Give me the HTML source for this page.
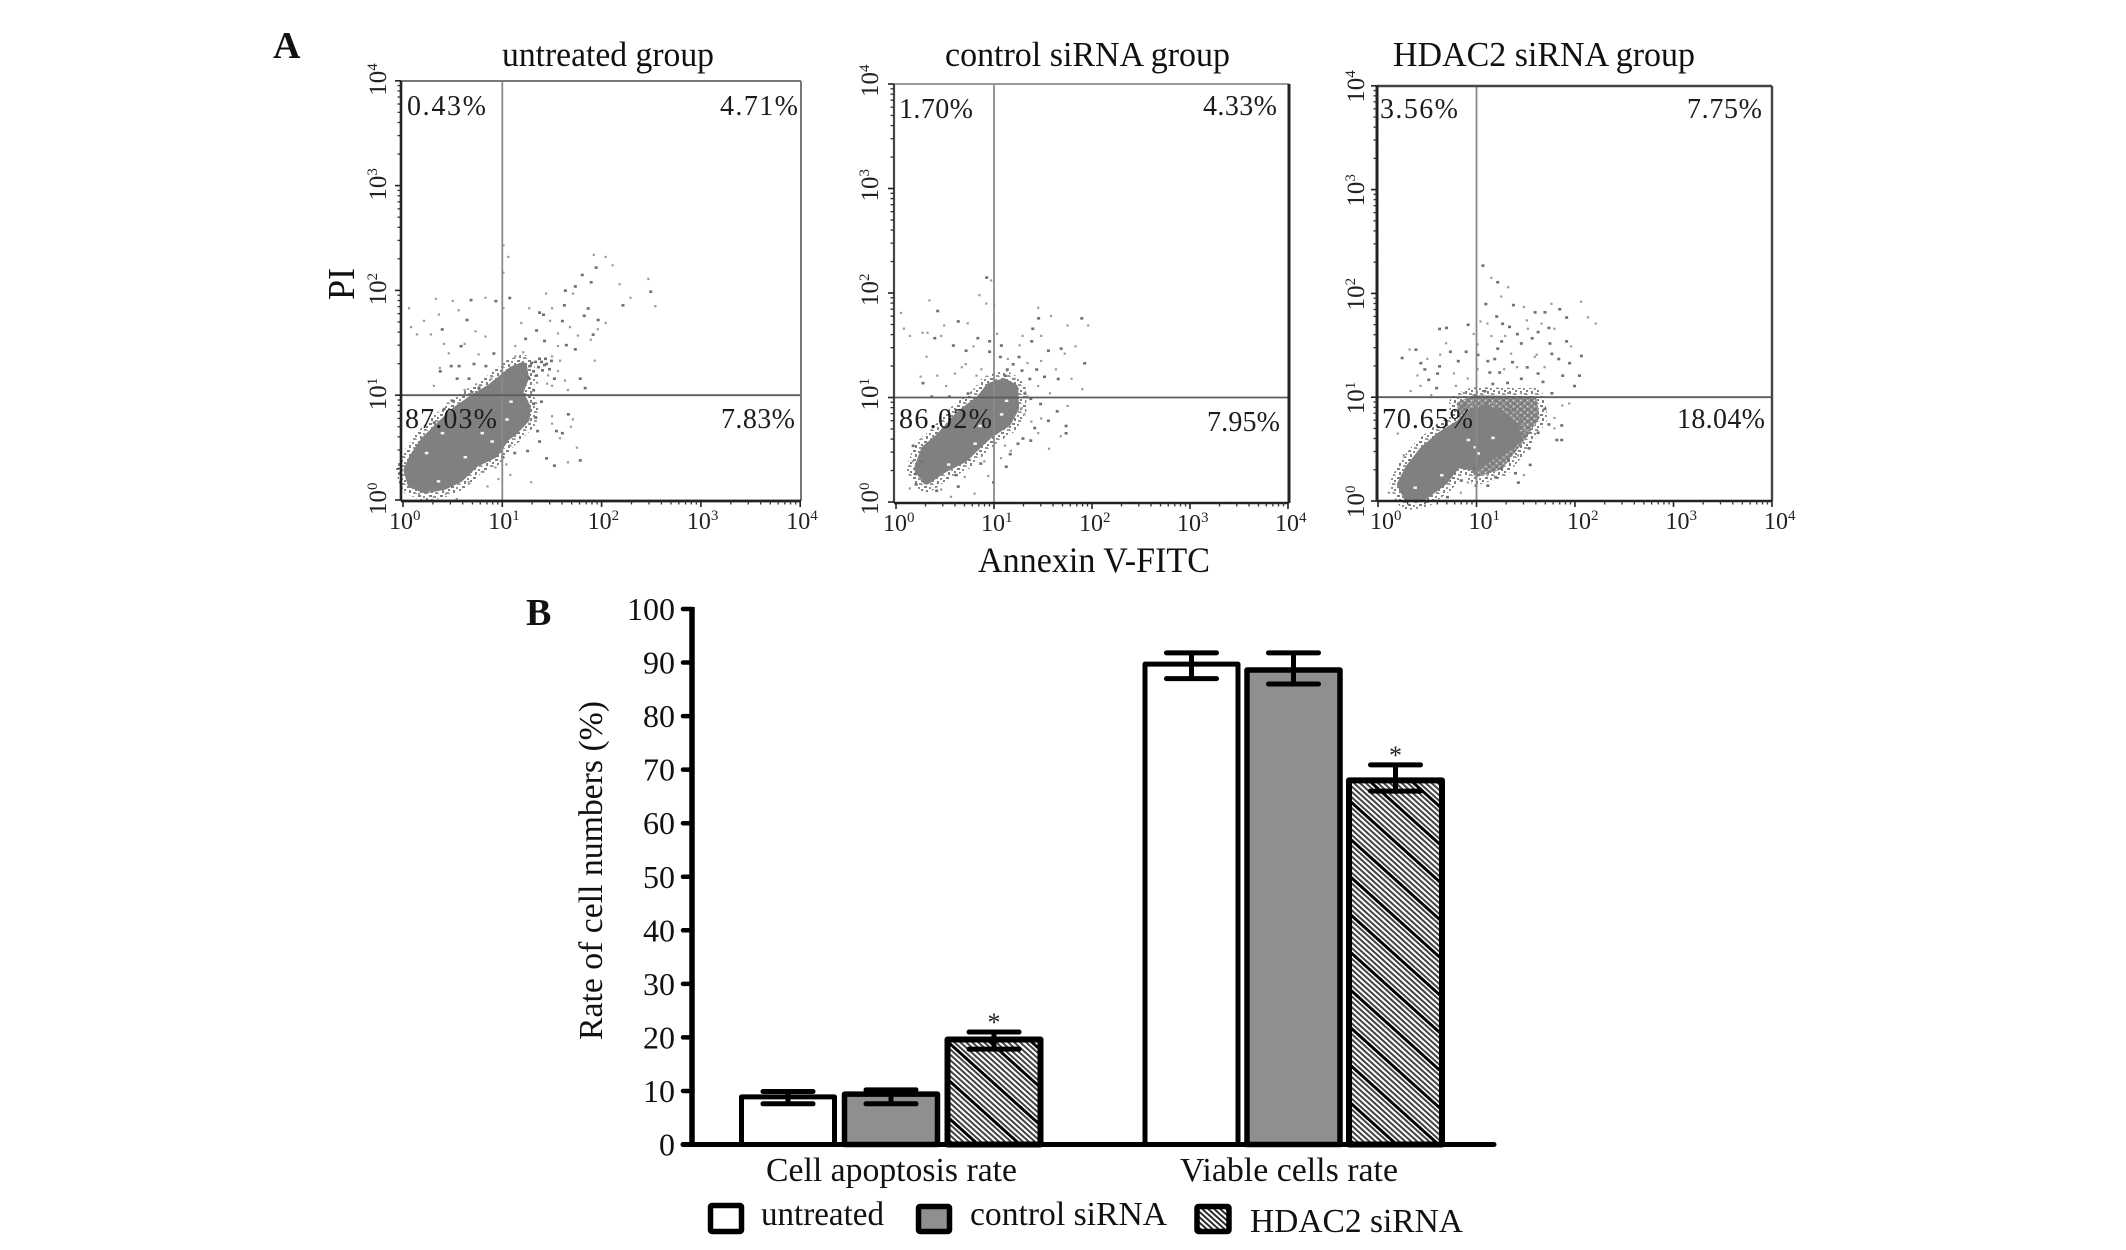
<!DOCTYPE html>
<html lang="en">
<head>
<meta charset="utf-8">
<title>Flow cytometry apoptosis and cell rate chart</title>
<style>
html,body{margin:0;padding:0;background:#fff;}
svg{display:block;font-family:"Liberation Serif","Times New Roman",serif;}
</style>
</head>
<body>
<svg id="figure" xmlns="http://www.w3.org/2000/svg" width="2126" height="1250" viewBox="0 0 2126 1250">
  <defs>
    <pattern id="hatch" patternUnits="userSpaceOnUse" width="28" height="28" patternTransform="rotate(42)">
      <rect width="28" height="28" fill="#fff"/>
      <path d="M0 4H28M0 8H28M0 12H28M0 16H28M0 20H28M0 24H28" stroke="#444" stroke-width="1.9"/>
      <path d="M0 0H28M0 28H28" stroke="#000" stroke-width="3"/>
    </pattern>
    <pattern id="hatch-fine" patternUnits="userSpaceOnUse" width="8" height="4" patternTransform="rotate(42)">
      <rect width="8" height="4" fill="#fff"/>
      <path d="M0 2H8" stroke="#222" stroke-width="1.9"/>
    </pattern>
    <pattern id="speckle" patternUnits="userSpaceOnUse" width="11" height="9">
      <rect x="0" y="0" width="3" height="2" fill="#808080"/>
      <rect x="5" y="1" width="2" height="2" fill="#8c8c8c"/>
      <rect x="8" y="3" width="2" height="2" fill="#808080"/>
      <rect x="2" y="4" width="2" height="3" fill="#808080"/>
      <rect x="6" y="6" width="3" height="2" fill="#999"/>
      <rect x="9" y="7" width="1" height="1" fill="#a5a5a5"/>
    </pattern>
    <pattern id="haze" patternUnits="userSpaceOnUse" width="7" height="6">
      <rect width="7" height="6" fill="#9a9a9a"/>
      <rect x="0" y="0" width="4" height="3" fill="#7c7c7c"/>
      <rect x="4" y="3" width="3" height="3" fill="#7c7c7c"/>
      <rect x="5" y="1" width="1" height="1" fill="#ddd"/>
      <rect x="1" y="4" width="1" height="1" fill="#e4e4e4"/>
    </pattern>
  </defs>

  <text x="273" y="58" font-size="38" font-weight="bold" fill="#111">A</text>
  <text x="526" y="625" font-size="38" font-weight="bold" fill="#111">B</text>
  <text transform="translate(354,300) rotate(-90)" font-size="38" textLength="32" lengthAdjust="spacingAndGlyphs" fill="#111">PI</text>
  <text x="978" y="572" font-size="36" textLength="232" lengthAdjust="spacingAndGlyphs" fill="#111">Annexin V-FITC</text>

  <g id="flow-panels"></g>
  <g id="bar-chart"></g>

  <text transform="translate(602,1040) rotate(-90)" font-size="34" textLength="339" lengthAdjust="spacingAndGlyphs" fill="#111">Rate of cell numbers (%)</text>

  <g>
    <rect x="710.5" y="1205.5" width="31" height="26" rx="1.5" fill="#fff" stroke="#000" stroke-width="5.5"/>
    <text x="761" y="1225" font-size="34" textLength="123" lengthAdjust="spacingAndGlyphs" fill="#111">untreated</text>
    <rect x="918.5" y="1206.5" width="31" height="25" rx="1.5" fill="#8f8f8f" stroke="#000" stroke-width="5.5"/>
    <text x="970" y="1225" font-size="34" textLength="197" lengthAdjust="spacingAndGlyphs" fill="#111">control siRNA</text>
    <rect x="1197" y="1206.5" width="32" height="25" rx="1.5" fill="url(#hatch-fine)" stroke="#000" stroke-width="5.5"/>
    <text x="1250" y="1232" font-size="34" textLength="213" lengthAdjust="spacingAndGlyphs" fill="#111">HDAC2 siRNA</text>
  </g>
</svg>

<script>
/* ---------- Panel A data: every pair is [log10 Annexin V-FITC, log10 PI] ---------- */
const tickExponents = [0, 1, 2, 3, 4];
const minorMultipliers = [2, 3, 4, 5, 6, 7, 8, 9];
const quadrantGateLog = [1, 1];

const panelTitles = ['untreated group', 'control siRNA group', 'HDAC2 siRNA group'];
const untreatedPercents = ['0.43%', '4.71%', '87.03%', '7.83%'];
const controlPercents = ['1.70%', '4.33%', '86.02%', '7.95%'];
const hdac2Percents = ['3.56%', '7.75%', '70.65%', '18.04%'];

const untreatedBlob = [[.05,.283],[.108,.406],[.223,.565],[.377,.707],[.531,.848],[.723,.972],[.877,1.06],[.992,1.148],[1.108,1.237],[1.204,1.272],[1.223,1.166],[1.165,1.025],[1.242,.883],[1.231,.777],[1.108,.654],[1.031,.601],[.915,.442],[.723,.353],[.569,.212],[.415,.141],[.223,.106],[.088,.159]];
const untreatedDark = [[1.79,2.16],[1.88,2.09],[1.93,2.23],[1.72,2.05],[1.62,2.01],[2.20,1.87],[2.48,2.00],[1.81,1.77],[1.85,1.84],[1.61,1.87],[1.36,1.80],[1.40,1.78],[1.33,1.63],[1.59,1.72],[1.41,1.53],[1.72,1.45],[1.63,1.49],[1.38,1.33],[1.32,1.33],[1.43,1.31],[1.26,1.29],[1.51,1.17],[1.77,1.17],[1.82,1.08],[1.06,1.94],[.92,1.91],[.67,1.92],[.57,1.48],[.63,1.73],[.38,1.64],[.90,1.41],[.82,1.29],[.70,1.31],[.55,1.29],[.47,1.29],[.53,1.17],[.65,1.17],[.36,1.24],[1.22,1.55],[1.90,1.59],[1.95,1.73],[1.65,.83],[1.53,.67],[1.59,.65],[1.34,.67],[1.36,.57],[1.77,.39],[1.43,.41],[1.51,.34],[1.24,.48],[1.11,.46],[.99,.42],[1.32,.80],[1.36,1.36],[1.41,1.30],[1.30,1.24],[1.46,1.26],[1.35,1.28],[1.42,1.36],[1.48,1.34],[1.28,1.32],[1.39,1.25],[1.33,1.20],[1.25,1.18],[1.30,1.06],[1.38,.95],[1.30,.93],[.75,1.08],[.68,1.04],[.48,.96],[.40,.88],[.30,.75]];
const untreatedLight = [[2.03,2.33],[1.91,2.35],[2.10,2.25],[2.17,2.07],[2.46,2.12],[2.53,1.86],[2.28,1.94],[1.43,1.98],[1.70,1.98],[1.49,1.84],[1.26,1.84],[1.95,1.64],[1.88,1.54],[2.03,1.70],[1.55,1.48],[1.49,1.38],[1.57,1.34],[1.55,1.24],[1.45,1.20],[1.34,1.13],[1.49,1.10],[1.65,1.06],[1.92,1.34],[1.00,2.44],[1.00,2.18],[1.00,1.84],[1.05,2.33],[.05,1.84],[.07,1.66],[.13,1.59],[.32,1.93],[.35,1.78],[.49,1.91],[.82,1.94],[.27,1.59],[.61,1.50],[.82,1.57],[.36,1.27],[.45,1.41],[.30,1.10],[.61,1.06],[.76,1.10],[.88,1.17],[1.49,.81],[1.70,.78],[1.68,.71],[1.49,.74],[1.57,.60],[1.74,.51],[1.28,.18],[1.65,.37],[.84,.14],[.53,.02],[.30,.04],[.15,.07],[.26,.09],[.42,.07],[.65,.18],[.80,.28],[.92,.32],[1.03,.35],[1.07,.53],[1.26,.74],[1.28,1.02],[1.07,.25],[.95,.21],[1.47,1.72],[1.55,1.60],[1.67,1.66],[1.75,1.58],[1.18,1.70],[1.12,1.48],[.72,1.62],[.55,1.82],[.20,1.72],[.40,1.50],[.75,1.40],[1.12,1.38],[1.20,1.42],[1.44,1.12],[1.62,1.15]];
const untreatedGaps = [[.22,.46],[.38,.65],[.88,.57],[1.07,.95],[.61,.42],[.34,.19],[1.03,.78],[.78,.65]];

const controlBlob = [[.23,.32],[.30,.50],[.45,.62],[.65,.83],[.86,.98],[.96,1.10],[1.10,1.14],[1.20,1.09],[1.21,.90],[1.13,.76],[.96,.66],[.82,.54],[.69,.42],[.48,.32],[.31,.21]];
const controlDark = [[1.88,1.77],[1.44,1.77],[.91,2.16],[.41,1.84],[1.54,1.46],[1.38,1.67],[1.37,1.55],[1.67,1.48],[1.91,1.34],[1.27,1.27],[1.10,1.22],[1.18,1.33],[1.06,1.51],[.82,1.58],[.94,1.55],[.94,1.45],[.38,1.58],[.57,1.51],[.70,1.46],[1.35,1.19],[1.50,1.21],[1.64,1.19],[1.63,.88],[1.72,.74],[1.72,.67],[1.54,.79],[1.28,.62],[1.23,.57],[1.11,.35],[.98,.20],[.62,.16],[.26,1.15],[.35,1.02],[.72,1.05],[.53,1.02],[.16,.55],[.19,.18],[.62,1.74],[1.30,1.05],[1.36,1.00],[1.42,1.28],[1.24,1.40],[1.12,1.28],[1.05,1.40],[1.46,.95],[1.40,.72],[1.36,.60],[1.15,.47],[.85,.38],[.60,.27],[.25,.40],[.18,.28],[.40,.12]];
const controlLight = [[.96,2.13],[.84,1.99],[.91,1.91],[.99,1.89],[.33,1.94],[.04,1.82],[.07,1.67],[.13,1.60],[.26,1.63],[.31,1.63],[.45,1.60],[.72,1.72],[1.44,1.87],[1.57,1.79],[1.74,1.70],[1.95,1.70],[1.28,1.60],[1.47,1.60],[1.71,1.43],[1.25,1.51],[1.13,1.38],[1.33,1.34],[1.47,1.36],[1.78,1.19],[1.89,1.09],[1.44,1.12],[1.20,1.19],[.70,1.33],[.41,1.22],[.24,1.21],[.59,1.24],[.81,1.22],[1.74,.93],[1.47,.81],[1.37,.78],[1.55,.52],[1.44,.67],[1.27,.91],[1.67,.64],[.13,.14],[.55,.06],[.79,.09],[.93,.26],[1.06,.43],[.16,.40],[.24,.23],[.45,.13],[.69,.25],[.89,.40],[1.16,.50],[1.30,.85],[1.33,1.02],[1.10,.55],[.50,1.12],[.66,1.30],[.86,1.28],[.30,1.40],[.48,1.70],[.78,1.50],[1.02,1.62],[1.56,1.05],[1.82,1.50],[1.62,1.28]];
const controlGaps = [[.52,.37],[.79,.57],[1.06,.85],[1.11,.98],[.84,.74]];

const hdac2Haze = [[.83,.93],[.97,.99],[1.58,.98],[1.61,.81],[1.44,.57],[1.24,.33],[1.00,.26],[.90,.57]];
const hdac2Blob = [[.24,.16],[.32,.31],[.46,.48],[.63,.62],[.83,.74],[.93,.83],[1.07,.88],[1.24,.84],[1.36,.74],[1.41,.64],[1.34,.53],[1.17,.45],[1.00,.33],[.80,.36],[.66,.19],[.46,.05],[.31,.03]];
const hdac2Dark = [[1.05,2.28],[1.20,2.12],[1.08,1.91],[1.36,1.90],[1.58,1.83],[1.68,1.83],[1.83,1.86],[1.90,1.78],[1.19,1.79],[1.32,1.69],[.90,1.71],[.68,1.68],[.61,1.67],[.37,1.47],[.23,1.39],[.80,1.36],[.88,1.45],[.61,1.31],[.46,1.28],[.58,1.10],[.59,1.24],[1.10,1.36],[1.17,1.38],[1.24,1.55],[1.44,1.53],[1.61,1.64],[1.73,1.53],[1.75,1.43],[1.93,1.34],[2.05,1.41],[2.03,1.22],[1.86,1.22],[1.98,1.12],[1.75,1.05],[1.66,1.16],[1.61,1.24],[1.44,1.19],[1.15,1.14],[1.07,1.07],[.97,1.03],[1.53,.36],[1.41,.19],[1.80,.60],[1.85,.60],[1.68,.90],[1.85,.74],[1.10,.16],[.98,.16],[.83,.21],[.69,.05],[1.24,.33],[.97,.33],[1.61,.67],[1.31,.40],[1.22,1.25],[1.30,1.15],[1.12,1.25],[1.35,1.35],[1.50,1.30],[1.40,1.62],[1.55,1.58],[1.25,1.72],[1.72,1.68],[1.90,1.55],[1.82,1.38],[1.20,1.48],[1.00,1.42],[.72,1.45],[.50,1.18],[.42,1.34],[1.72,.75],[1.52,.52],[1.38,.28],[1.18,.24]];
const hdac2Light = [[1.14,2.16],[1.31,2.07],[1.24,1.98],[2.05,1.93],[2.12,1.78],[2.20,1.72],[1.75,1.91],[1.47,1.88],[1.03,1.74],[1.14,1.60],[1.51,1.67],[1.78,1.67],[1.95,1.50],[1.58,1.40],[1.34,1.43],[1.00,1.52],[.68,1.53],[.49,1.38],[.31,1.47],[.39,1.22],[.42,1.12],[.32,1.07],[.76,1.24],[.90,1.19],[.86,1.05],[.53,1.03],[1.31,1.05],[1.44,1.05],[1.58,1.09],[1.27,1.28],[1.00,1.28],[.19,.66],[.25,.45],[.10,.09],[.17,.02],[1.78,.81],[1.86,.93],[1.93,.95],[1.78,.71],[1.41,.45],[1.47,.26],[1.10,.26],[.83,.09],[.90,.19],[1.60,1.42],[1.68,1.30],[1.40,1.30],[1.10,1.72],[1.28,1.60],[1.50,1.75],[1.65,1.72],[.78,1.12],[.62,1.42],[.96,1.62]];
const hdac2Gaps = [[.90,.60],[.36,.14],[1.15,.62],[.97,.53],[.63,.26],[1.00,.47]];

/* ---------- Panel B data ---------- */
const barCategories = ['Cell apoptosis rate', 'Viable cells rate'];
const barSeriesNames = ['untreated', 'control siRNA', 'HDAC2 siRNA'];
const apoptosisValues = [8.9, 9.4, 19.6];
const apoptosisUpper = [9.9, 10.2, 21.0];
const apoptosisLower = [7.6, 7.6, 17.8];
const viableValues = [89.7, 88.6, 68.0];
const viableUpper = [91.8, 91.8, 70.9];
const viableLower = [87.0, 86.0, 66.0];
const significantFlags = [false, false, true];
const rateTicks = [0, 10, 20, 30, 40, 50, 60, 70, 80, 90, 100];

/* ---------- Layout (not data) ---------- */
const NS = 'http://www.w3.org/2000/svg';
function make(tag, parent, attrs) {
  const el = document.createElementNS(NS, tag);
  for (const k in attrs) el.setAttribute(k, attrs[k]);
  parent.appendChild(el);
  return el;
}

const flowLayouts = [
  {key:'untreated', left:401, right:801, top:81, bottom:501, x0:403, xStep:99.3, y0:500, yStep:104.8, yLabelX:386, xShift:-14, yShift:15, titleX:502, titleLen:212,
   leftC:'#222', leftW:2.6, botC:'#222', botW:2.8, topC:'#777', topW:2, rightC:'#777', rightW:2,
   pctPos:[[407,115,79],[720,115,78],[405,428,92],[721,428,74]]},
  {key:'control', left:894, right:1289, top:84, bottom:503, x0:896, xStep:98, y0:502, yStep:104.5, yLabelX:878, xShift:-13, yShift:13, titleX:945, titleLen:285,
   leftC:'#444', leftW:2.2, botC:'#222', botW:2.4, topC:'#999', topW:2, rightC:'#222', rightW:3,
   pctPos:[[899,118,74],[1203,115,74],[899,428,93],[1207,431,73]]},
  {key:'hdac2', left:1377, right:1772, top:86, bottom:501, x0:1378, xStep:98.5, y0:501, yStep:103.8, yLabelX:1364, xShift:-8, yShift:17, titleX:1393, titleLen:302,
   leftC:'#222', leftW:3, botC:'#222', botW:2.6, topC:'#444', topW:2.4, rightC:'#444', rightW:2.4,
   pctPos:[[1380,118,78],[1687,118,75],[1382,428,91],[1677,428,88]]}
];
const flowData = {
  untreated:{percents:untreatedPercents, haze:null, blob:untreatedBlob, dark:untreatedDark, light:untreatedLight, gaps:untreatedGaps},
  control:{percents:controlPercents, haze:null, blob:controlBlob, dark:controlDark, light:controlLight, gaps:controlGaps},
  hdac2:{percents:hdac2Percents, haze:hdac2Haze, blob:hdac2Blob, dark:hdac2Dark, light:hdac2Light, gaps:hdac2Gaps}
};

/* ---------- Draw panel A ---------- */
const flowRoot = document.getElementById('flow-panels');
flowLayouts.forEach(function (p, pi) {
  const d = flowData[p.key];
  const xScale = function (v) { return p.x0 + v * p.xStep; };
  const yScale = function (v) { return p.y0 - v * p.yStep; };
  const polyPoints = function (arr) { return arr.map(function (q) { return xScale(q[0]).toFixed(1) + ',' + yScale(q[1]).toFixed(1); }).join(' '); };

  const g = make('g', flowRoot, {});
  
  

  const title = make('text', g, {x:p.titleX, y:66, 'font-size':35, textLength:p.titleLen, lengthAdjust:'spacingAndGlyphs', fill:'#111'});
  title.textContent = panelTitles[pi];
  
  

  if (d.haze) {
    const hazeEdge = make('polygon', g, {points:polyPoints(d.haze), fill:'none', stroke:'url(#speckle)', 'stroke-width':22, 'stroke-linejoin':'round'});
    
    
    const haze = make('polygon', g, {points:polyPoints(d.haze), fill:'url(#haze)', stroke:'url(#haze)', 'stroke-width':6, 'stroke-linejoin':'round'});
    
    
  }
  const blob = make('polygon', g, {points:polyPoints(d.blob), fill:'#808080', stroke:'url(#speckle)', 'stroke-width':24, 'stroke-linejoin':'round'});
  
  
  const core = make('polygon', g, {points:polyPoints(d.blob), fill:'#808080', stroke:'#808080', 'stroke-width':9, 'stroke-linejoin':'round'});
  
  

  d.gaps.forEach(function (q) {
    const r = make('rect', g, {x:xScale(q[0]), y:yScale(q[1]), width:3.5, height:2.5, fill:'#f4f4f4'});
    
    
  });
  d.light.forEach(function (q) {
    const r = make('rect', g, {x:xScale(q[0]), y:yScale(q[1]), width:2.2, height:2.2, fill:'#9a9a9a'});
    
    
  });
  d.dark.forEach(function (q) {
    const r = make('rect', g, {x:xScale(q[0]), y:yScale(q[1]), width:3, height:2.6, fill:'#707070'});
    
    
  });

  const vGate = make('line', g, {x1:xScale(quadrantGateLog[0]), x2:xScale(quadrantGateLog[0]), y1:p.top, y2:p.bottom, stroke:'#8a8a8a', 'stroke-width':1.8});
  
  
  const hGate = make('line', g, {x1:p.left, x2:p.right, y1:yScale(quadrantGateLog[1]), y2:yScale(quadrantGateLog[1]), stroke:'#5c5c5c', 'stroke-width':1.8});
  
  

  const frameTop = make('line', g, {x1:p.left, x2:p.right, y1:p.top, y2:p.top, stroke:p.topC, 'stroke-width':p.topW});
  
  
  const frameRight = make('line', g, {x1:p.right, x2:p.right, y1:p.top, y2:p.bottom, stroke:p.rightC, 'stroke-width':p.rightW});
  
  
  const axisY = make('line', g, {x1:p.left, x2:p.left, y1:p.top, y2:p.bottom, stroke:p.leftC, 'stroke-width':p.leftW});
  
  
  const axisX = make('line', g, {x1:p.left, x2:p.right, y1:p.bottom, y2:p.bottom, stroke:p.botC, 'stroke-width':p.botW});
  
  

  tickExponents.forEach(function (e, i) {
    const tx = make('line', g, {x1:xScale(e), x2:xScale(e), y1:p.bottom, y2:p.bottom + 6, stroke:'#222', 'stroke-width':1.6});
    
    
    const ty = make('line', g, {x1:p.left - 6, x2:p.left, y1:yScale(e), y2:yScale(e), stroke:'#222', 'stroke-width':1.6});
    
    

    if (i < tickExponents.length - 1) {
      minorMultipliers.forEach(function (m) {
        const lm = e + Math.log10(m);
        const mx = make('line', g, {x1:xScale(lm), x2:xScale(lm), y1:p.bottom, y2:p.bottom + 3.5, stroke:'#333', 'stroke-width':1.3});
        
        
        const my = make('line', g, {x1:p.left - 3.5, x2:p.left, y1:yScale(lm), y2:yScale(lm), stroke:'#333', 'stroke-width':1.3});
        
        
      });
    }

    const lx = make('text', g, {x:xScale(e) + p.xShift, y:p.bottom + 28, 'font-size':24, fill:'#222'});
    lx.textContent = '10';
    make('tspan', lx, {dy:-9, 'font-size':15}).textContent = String(e);
    
    

    const ly = make('text', g, {transform:'translate(' + p.yLabelX + ',' + (yScale(e) + p.yShift) + ') rotate(-90)', 'font-size':25, fill:'#222'});
    ly.textContent = '10';
    make('tspan', ly, {dy:-9, 'font-size':15}).textContent = String(e);
    
    
  });

  d.percents.forEach(function (txt, i) {
    const pos = p.pctPos[i];
    const t = make('text', g, {x:pos[0], y:pos[1], 'font-size':28, textLength:pos[2], fill:'#1c1c1c'});
    t.textContent = txt;
    
    
  });
});

/* ---------- Draw panel B ---------- */
const barRoot = document.getElementById('bar-chart');
const ZERO_Y = 1144.5, UNIT_Y = 5.355, AXIS_X = 692, AXIS_END = 1494;
const groupCenters = [891, 1293.5];
const groupSpacing = [103, 102];
const barHalf = 46.5, capHalf = 25;
const strokeBySeries = [5, 5.5, 6];
const fillBySeries = ['#fff', '#8f8f8f', 'url(#hatch)'];
const rateY = function (v) { return ZERO_Y - v * UNIT_Y; };
const seriesX = function (g, s) { return groupCenters[g] + (s - 1) * groupSpacing[g]; };

const groupValues = [apoptosisValues, viableValues];
const groupUpper = [apoptosisUpper, viableUpper];
const groupLower = [apoptosisLower, viableLower];

groupValues.forEach(function (vals, g) {
  vals.forEach(function (v, s) {
    const cx = seriesX(g, s);
    const bar = make('rect', barRoot, {x:cx - barHalf, y:rateY(v), width:barHalf * 2, height:ZERO_Y - rateY(v), fill:fillBySeries[s], stroke:'#000', 'stroke-width':strokeBySeries[s], 'stroke-linejoin':'round'});
    
    

    const stem = make('line', barRoot, {x1:cx, x2:cx, y1:rateY(groupUpper[g][s]), y2:rateY(groupLower[g][s]), stroke:'#000', 'stroke-width':5});
    
    
    const capU = make('line', barRoot, {x1:cx - capHalf, x2:cx + capHalf, y1:rateY(groupUpper[g][s]), y2:rateY(groupUpper[g][s]), stroke:'#000', 'stroke-width':5, 'stroke-linecap':'round'});
    
    
    const capL = make('line', barRoot, {x1:cx - capHalf, x2:cx + capHalf, y1:rateY(groupLower[g][s]), y2:rateY(groupLower[g][s]), stroke:'#000', 'stroke-width':5, 'stroke-linecap':'round'});
    
    

    if (significantFlags[s]) {
      const star = make('text', barRoot, {x:cx, y:rateY(groupUpper[g][s]) - 1, 'font-size':26, 'text-anchor':'middle', fill:'#222'});
      star.textContent = '*';
      
      
    }
  });
});

const yAxisLine = make('line', barRoot, {x1:AXIS_X, x2:AXIS_X, y1:rateY(100) - 2, y2:ZERO_Y, stroke:'#000', 'stroke-width':5.5});


const xAxisLine = make('line', barRoot, {x1:683, x2:AXIS_END, y1:ZERO_Y, y2:ZERO_Y, stroke:'#000', 'stroke-width':5, 'stroke-linecap':'round'});



rateTicks.forEach(function (v) {
  const t = make('line', barRoot, {x1:683, x2:AXIS_X, y1:rateY(v), y2:rateY(v), stroke:'#000', 'stroke-width':4.5, 'stroke-linecap':'round'});
  
  
  const l = make('text', barRoot, {x:675, y:rateY(v) + 11, 'font-size':32, 'text-anchor':'end', fill:'#111'});
  l.textContent = String(v);
  
  
});

const catStart = [766, 1180];
const catLen = [251, 218];
barCategories.forEach(function (name, i) {
  const c = make('text', barRoot, {x:catStart[i], y:1181, 'font-size':34, textLength:catLen[i], lengthAdjust:'spacingAndGlyphs', fill:'#111'});
  c.textContent = name;
  
  
});
</script>
</body>
</html>
